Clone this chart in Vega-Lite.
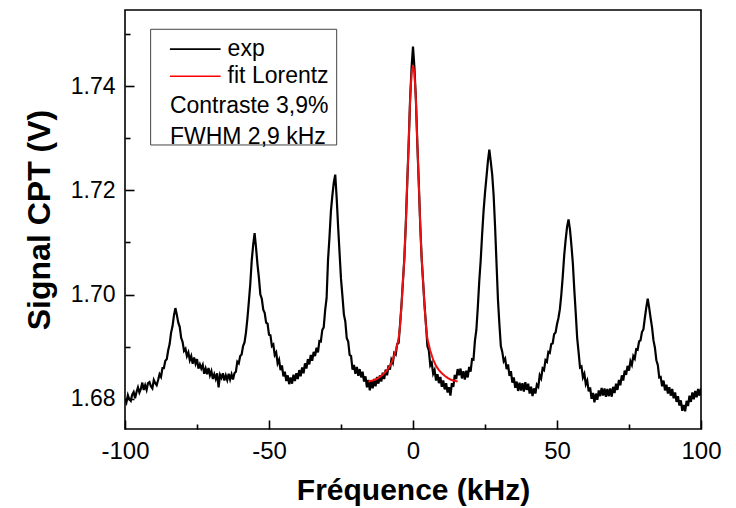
{
  "$schema": "https://vega.github.io/schema/vega-lite/v6.json",
  "width": 576,
  "height": 419,
  "autosize": {"type": "none"},
  "padding": {"left": 125, "top": 10, "right": 35, "bottom": 79},
  "background": "white",
  "config": {
    "font": "Liberation Sans",
    "view": {"stroke": "black", "strokeWidth": 1.6},
    "axis": {"grid": false, "ticks": true, "tickOpacity": 1, "zindex": 1}
  },
  "datasets": {
    "exp": [
      {"f":-100,"v":1.6800},{"f":-99.5,"v":1.6793},{"f":-99,"v":1.6807},{"f":-98.5,"v":1.6799},{"f":-98,"v":1.6796},{"f":-97.5,"v":1.6808},{"f":-97,"v":1.6813},{"f":-96.5,"v":1.6801},{"f":-96,"v":1.6813},{"f":-95.5,"v":1.6822},{"f":-95,"v":1.6812},{"f":-94.5,"v":1.6819},{"f":-94,"v":1.6831},{"f":-93.5,"v":1.6817},{"f":-93,"v":1.6826},{"f":-92.5,"v":1.6817},{"f":-92,"v":1.6830},{"f":-91.5,"v":1.6832},{"f":-91,"v":1.6824},{"f":-90.5,"v":1.6820},{"f":-90,"v":1.6836},{"f":-89.5,"v":1.6830},{"f":-89,"v":1.6826},{"f":-88.5,"v":1.6836},{"f":-88,"v":1.6847},{"f":-87.5,"v":1.6842},{"f":-87,"v":1.6859},{"f":-86.5,"v":1.6859},{"f":-86,"v":1.6873},{"f":-85.5,"v":1.6876},{"f":-85,"v":1.6893},{"f":-84.5,"v":1.6905},{"f":-84,"v":1.6927},{"f":-83.5,"v":1.6939},{"f":-83,"v":1.6960},{"f":-82.5,"v":1.6974},{"f":-82,"v":1.6961},{"f":-81.5,"v":1.6946},{"f":-81,"v":1.6938},{"f":-80.5,"v":1.6917},{"f":-80,"v":1.6909},{"f":-79.5,"v":1.6892},{"f":-79,"v":1.6896},{"f":-78.5,"v":1.6882},{"f":-78,"v":1.6889},{"f":-77.5,"v":1.6874},{"f":-77,"v":1.6882},{"f":-76.5,"v":1.6867},{"f":-76,"v":1.6879},{"f":-75.5,"v":1.6867},{"f":-75,"v":1.6876},{"f":-74.5,"v":1.6858},{"f":-74,"v":1.6866},{"f":-73.5,"v":1.6858},{"f":-73,"v":1.6865},{"f":-72.5,"v":1.6848},{"f":-72,"v":1.6858},{"f":-71.5,"v":1.6847},{"f":-71,"v":1.6859},{"f":-70.5,"v":1.6845},{"f":-70,"v":1.6853},{"f":-69.5,"v":1.6838},{"f":-69,"v":1.6847},{"f":-68.5,"v":1.6838},{"f":-68,"v":1.6849},{"f":-67.5,"v":1.6822},{"f":-67,"v":1.6846},{"f":-66.5,"v":1.6840},{"f":-66,"v":1.6849},{"f":-65.5,"v":1.6835},{"f":-65,"v":1.6845},{"f":-64.5,"v":1.6836},{"f":-64,"v":1.6848},{"f":-63.5,"v":1.6837},{"f":-63,"v":1.6847},{"f":-62.5,"v":1.6837},{"f":-62,"v":1.6849},{"f":-61.5,"v":1.6852},{"f":-61,"v":1.6871},{"f":-60.5,"v":1.6868},{"f":-60,"v":1.6882},{"f":-59.5,"v":1.6885},{"f":-59,"v":1.6901},{"f":-58.5,"v":1.6908},{"f":-58,"v":1.6927},{"f":-57.5,"v":1.6954},{"f":-57,"v":1.6986},{"f":-56.5,"v":1.7020},{"f":-56,"v":1.7065},{"f":-55.5,"v":1.7095},{"f":-55,"v":1.7118},{"f":-54.5,"v":1.7090},{"f":-54,"v":1.7058},{"f":-53.5,"v":1.7032},{"f":-53,"v":1.7000},{"f":-52.5,"v":1.6992},{"f":-52,"v":1.6971},{"f":-51.5,"v":1.6965},{"f":-51,"v":1.6946},{"f":-50.5,"v":1.6944},{"f":-50,"v":1.6923},{"f":-49.5,"v":1.6922},{"f":-49,"v":1.6901},{"f":-48.5,"v":1.6904},{"f":-48,"v":1.6884},{"f":-47.5,"v":1.6889},{"f":-47,"v":1.6868},{"f":-46.5,"v":1.6875},{"f":-46,"v":1.6855},{"f":-45.5,"v":1.6864},{"f":-45,"v":1.6843},{"f":-44.5,"v":1.6852},{"f":-44,"v":1.6834},{"f":-43.5,"v":1.6845},{"f":-43,"v":1.6828},{"f":-42.5,"v":1.6841},{"f":-42,"v":1.6829},{"f":-41.5,"v":1.6846},{"f":-41,"v":1.6834},{"f":-40.5,"v":1.6849},{"f":-40,"v":1.6838},{"f":-39.5,"v":1.6855},{"f":-39,"v":1.6843},{"f":-38.5,"v":1.6860},{"f":-38,"v":1.6849},{"f":-37.5,"v":1.6868},{"f":-37,"v":1.6858},{"f":-36.5,"v":1.6876},{"f":-36,"v":1.6866},{"f":-35.5,"v":1.6884},{"f":-35,"v":1.6873},{"f":-34.5,"v":1.6890},{"f":-34,"v":1.6882},{"f":-33.5,"v":1.6898},{"f":-33,"v":1.6889},{"f":-32.5,"v":1.6911},{"f":-32,"v":1.6910},{"f":-31.5,"v":1.6932},{"f":-31,"v":1.6937},{"f":-30.5,"v":1.6970},{"f":-30,"v":1.6993},{"f":-29.5,"v":1.7067},{"f":-29,"v":1.7110},{"f":-28.5,"v":1.7160},{"f":-28,"v":1.7190},{"f":-27.5,"v":1.7215},{"f":-27,"v":1.7230},{"f":-26.5,"v":1.7185},{"f":-26,"v":1.7130},{"f":-25.5,"v":1.7080},{"f":-25,"v":1.7030},{"f":-24.5,"v":1.6997},{"f":-24,"v":1.6962},{"f":-23.5,"v":1.6948},{"f":-23,"v":1.6916},{"f":-22.5,"v":1.6910},{"f":-22,"v":1.6884},{"f":-21.5,"v":1.6882},{"f":-21,"v":1.6856},{"f":-20.5,"v":1.6865},{"f":-20,"v":1.6848},{"f":-19.5,"v":1.6861},{"f":-19,"v":1.6844},{"f":-18.5,"v":1.6857},{"f":-18,"v":1.6841},{"f":-17.5,"v":1.6852},{"f":-17,"v":1.6833},{"f":-16.5,"v":1.6843},{"f":-16,"v":1.6822},{"f":-15.5,"v":1.6836},{"f":-15,"v":1.6816},{"f":-14.5,"v":1.6834},{"f":-14,"v":1.6820},{"f":-13.5,"v":1.6838},{"f":-13,"v":1.6824},{"f":-12.5,"v":1.6842},{"f":-12,"v":1.6829},{"f":-11.5,"v":1.6845},{"f":-11,"v":1.6833},{"f":-10.5,"v":1.6850},{"f":-10,"v":1.6838},{"f":-9.5,"v":1.6856},{"f":-9,"v":1.6845},{"f":-8.5,"v":1.6864},{"f":-8,"v":1.6856},{"f":-7.5,"v":1.6875},{"f":-7,"v":1.6869},{"f":-6.5,"v":1.6888},{"f":-6,"v":1.6885},{"f":-5.5,"v":1.6905},{"f":-5,"v":1.6907},{"f":-4.5,"v":1.6942},{"f":-4,"v":1.6980},{"f":-3.5,"v":1.7025},{"f":-3,"v":1.7070},{"f":-2.5,"v":1.7135},{"f":-2,"v":1.7215},{"f":-1.5,"v":1.7290},{"f":-1,"v":1.7375},{"f":-0.5,"v":1.7435},{"f":0,"v":1.7476},{"f":0.5,"v":1.7435},{"f":1,"v":1.7375},{"f":1.5,"v":1.7290},{"f":2,"v":1.7215},{"f":2.5,"v":1.7135},{"f":3,"v":1.7070},{"f":3.5,"v":1.7025},{"f":4,"v":1.6980},{"f":4.5,"v":1.6943},{"f":5,"v":1.6901},{"f":5.5,"v":1.6893},{"f":6,"v":1.6864},{"f":6.5,"v":1.6869},{"f":7,"v":1.6848},{"f":7.5,"v":1.6855},{"f":8,"v":1.6835},{"f":8.5,"v":1.6847},{"f":9,"v":1.6830},{"f":9.5,"v":1.6842},{"f":10,"v":1.6823},{"f":10.5,"v":1.6835},{"f":11,"v":1.6818},{"f":11.5,"v":1.6830},{"f":12,"v":1.6812},{"f":12.5,"v":1.6822},{"f":13,"v":1.6806},{"f":13.5,"v":1.6830},{"f":14,"v":1.6823},{"f":14.5,"v":1.6846},{"f":15,"v":1.6838},{"f":15.5,"v":1.6857},{"f":16,"v":1.6845},{"f":16.5,"v":1.6858},{"f":17,"v":1.6839},{"f":17.5,"v":1.6853},{"f":18,"v":1.6837},{"f":18.5,"v":1.6854},{"f":19,"v":1.6841},{"f":19.5,"v":1.6861},{"f":20,"v":1.6852},{"f":20.5,"v":1.6876},{"f":21,"v":1.6875},{"f":21.5,"v":1.6911},{"f":22,"v":1.6932},{"f":22.5,"v":1.6975},{"f":23,"v":1.7025},{"f":23.5,"v":1.7065},{"f":24,"v":1.7115},{"f":24.5,"v":1.7160},{"f":25,"v":1.7195},{"f":25.5,"v":1.7225},{"f":26,"v":1.7255},{"f":26.5,"v":1.7278},{"f":27,"v":1.7255},{"f":27.5,"v":1.7230},{"f":28,"v":1.7190},{"f":28.5,"v":1.7130},{"f":29,"v":1.7060},{"f":29.5,"v":1.6990},{"f":30,"v":1.6943},{"f":30.5,"v":1.6901},{"f":31,"v":1.6890},{"f":31.5,"v":1.6872},{"f":32,"v":1.6877},{"f":32.5,"v":1.6857},{"f":33,"v":1.6866},{"f":33.5,"v":1.6844},{"f":34,"v":1.6853},{"f":34.5,"v":1.6831},{"f":35,"v":1.6841},{"f":35.5,"v":1.6821},{"f":36,"v":1.6833},{"f":36.5,"v":1.6815},{"f":37,"v":1.6831},{"f":37.5,"v":1.6816},{"f":38,"v":1.6830},{"f":38.5,"v":1.6814},{"f":39,"v":1.6832},{"f":39.5,"v":1.6817},{"f":40,"v":1.6829},{"f":40.5,"v":1.6810},{"f":41,"v":1.6823},{"f":41.5,"v":1.6805},{"f":42,"v":1.6820},{"f":42.5,"v":1.6810},{"f":43,"v":1.6827},{"f":43.5,"v":1.6823},{"f":44,"v":1.6845},{"f":44.5,"v":1.6839},{"f":45,"v":1.6858},{"f":45.5,"v":1.6855},{"f":46,"v":1.6874},{"f":46.5,"v":1.6871},{"f":47,"v":1.6890},{"f":47.5,"v":1.6888},{"f":48,"v":1.6905},{"f":48.5,"v":1.6906},{"f":49,"v":1.6924},{"f":49.5,"v":1.6927},{"f":50,"v":1.6943},{"f":50.5,"v":1.6955},{"f":51,"v":1.6972},{"f":51.5,"v":1.7000},{"f":52,"v":1.7035},{"f":52.5,"v":1.7075},{"f":53,"v":1.7105},{"f":53.5,"v":1.7130},{"f":54,"v":1.7144},{"f":54.5,"v":1.7125},{"f":55,"v":1.7095},{"f":55.5,"v":1.7060},{"f":56,"v":1.7010},{"f":56.5,"v":1.6965},{"f":57,"v":1.6917},{"f":57.5,"v":1.6889},{"f":58,"v":1.6860},{"f":58.5,"v":1.6862},{"f":59,"v":1.6841},{"f":59.5,"v":1.6848},{"f":60,"v":1.6828},{"f":60.5,"v":1.6835},{"f":61,"v":1.6814},{"f":61.5,"v":1.6822},{"f":62,"v":1.6800},{"f":62.5,"v":1.6811},{"f":63,"v":1.6793},{"f":63.5,"v":1.6810},{"f":64,"v":1.6798},{"f":64.5,"v":1.6816},{"f":65,"v":1.6805},{"f":65.5,"v":1.6821},{"f":66,"v":1.6806},{"f":66.5,"v":1.6820},{"f":67,"v":1.6804},{"f":67.5,"v":1.6819},{"f":68,"v":1.6805},{"f":68.5,"v":1.6820},{"f":69,"v":1.6804},{"f":69.5,"v":1.6823},{"f":70,"v":1.6811},{"f":70.5,"v":1.6829},{"f":71,"v":1.6817},{"f":71.5,"v":1.6836},{"f":72,"v":1.6826},{"f":72.5,"v":1.6845},{"f":73,"v":1.6835},{"f":73.5,"v":1.6854},{"f":74,"v":1.6846},{"f":74.5,"v":1.6863},{"f":75,"v":1.6854},{"f":75.5,"v":1.6872},{"f":76,"v":1.6865},{"f":76.5,"v":1.6882},{"f":77,"v":1.6877},{"f":77.5,"v":1.6895},{"f":78,"v":1.6894},{"f":78.5,"v":1.6910},{"f":79,"v":1.6912},{"f":79.5,"v":1.6928},{"f":80,"v":1.6933},{"f":80.5,"v":1.6955},{"f":81,"v":1.6975},{"f":81.5,"v":1.6992},{"f":82,"v":1.6975},{"f":82.5,"v":1.6955},{"f":83,"v":1.6937},{"f":83.5,"v":1.6912},{"f":84,"v":1.6898},{"f":84.5,"v":1.6874},{"f":85,"v":1.6865},{"f":85.5,"v":1.6841},{"f":86,"v":1.6842},{"f":86.5,"v":1.6824},{"f":87,"v":1.6835},{"f":87.5,"v":1.6816},{"f":88,"v":1.6827},{"f":88.5,"v":1.6810},{"f":89,"v":1.6822},{"f":89.5,"v":1.6806},{"f":90,"v":1.6819},{"f":90.5,"v":1.6801},{"f":91,"v":1.6812},{"f":91.5,"v":1.6794},{"f":92,"v":1.6805},{"f":92.5,"v":1.6787},{"f":93,"v":1.6797},{"f":93.5,"v":1.6777},{"f":94,"v":1.6788},{"f":94.5,"v":1.6776},{"f":95,"v":1.6796},{"f":95.5,"v":1.6786},{"f":96,"v":1.6806},{"f":96.5,"v":1.6794},{"f":97,"v":1.6812},{"f":97.5,"v":1.6799},{"f":98,"v":1.6815},{"f":98.5,"v":1.6803},{"f":99,"v":1.6819},{"f":99.5,"v":1.6806},{"f":100,"v":1.6820}
    ],
    "fit": [
      {"f":-15.5,"v":1.6833},{"f":-14,"v":1.6835},{"f":-13,"v":1.6837},{"f":-12,"v":1.6840},{"f":-11,"v":1.6844},{"f":-10,"v":1.6849},{"f":-9,"v":1.6855},{"f":-8,"v":1.6863},{"f":-7,"v":1.6875},{"f":-6,"v":1.6892},{"f":-5,"v":1.6915},{"f":-4.5,"v":1.6940},{"f":-4,"v":1.6978},{"f":-3.5,"v":1.7025},{"f":-3,"v":1.7070},{"f":-2.5,"v":1.7135},{"f":-2,"v":1.7215},{"f":-1.5,"v":1.7290},{"f":-1,"v":1.7375},{"f":-0.5,"v":1.7425},{"f":0,"v":1.7440},{"f":0.5,"v":1.7425},{"f":1,"v":1.7375},{"f":1.5,"v":1.7290},{"f":2,"v":1.7215},{"f":2.5,"v":1.7135},{"f":3,"v":1.7070},{"f":3.5,"v":1.7025},{"f":4,"v":1.6978},{"f":4.5,"v":1.6940},{"f":5,"v":1.6915},{"f":6,"v":1.6892},{"f":7,"v":1.6875},{"f":8,"v":1.6863},{"f":9,"v":1.6855},{"f":10,"v":1.6849},{"f":11,"v":1.6844},{"f":12,"v":1.6840},{"f":13,"v":1.6837},{"f":14,"v":1.6835},{"f":15.5,"v":1.6833}
    ],
    "box": [{"x1": -91.1, "x2": -26.5, "y1": 1.7287, "y2": 1.7509}],
    "keys": [
      {"x1": -84.4, "x2": -66.8, "y": 1.7471, "label": "exp", "c": "black"},
      {"x1": -84.4, "x2": -66.8, "y": 1.7419, "label": "fit Lorentz", "c": "red"}
    ],
    "notes": [
      {"x": -84.4, "y": 1.7361, "label": "Contraste 3,9%"},
      {"x": -84.4, "y": 1.7303, "label": "FWHM 2,9 kHz"}
    ]
  },
  "layer": [
    {
      "data": {"name": "box"},
      "mark": {"type": "rect", "fill": "white", "stroke": "#444444", "strokeWidth": 1},
      "encoding": {
        "x": {"field": "x1", "type": "quantitative", "scale": {"domain": [-100, 100], "nice": false},
          "axis": {"orient": "bottom", "offset": -5, "values": [-75, -25, 25, 75], "labels": false, "domain": false, "ticks": true, "tickSize": 5, "tickWidth": 1.6, "tickColor": "#000000", "title": null}},
        "x2": {"field": "x2"},
        "y": {"field": "y1", "type": "quantitative", "scale": {"domain": [1.6742, 1.7546], "nice": false, "zero": false},
          "axis": {"orient": "left", "offset": -5, "values": [1.69, 1.71, 1.73, 1.75], "labels": false, "domain": false, "ticks": true, "tickSize": 5, "tickWidth": 1.6, "tickColor": "#000000", "title": null}},
        "y2": {"field": "y2"}
      }
    },
    {
      "data": {"name": "exp"},
      "mark": {"type": "line", "color": "black", "strokeWidth": 2.2, "clip": true},
      "encoding": {
        "x": {"field": "f", "type": "quantitative", "scale": {"domain": [-100, 100], "nice": false},
          "axis": {"orient": "bottom", "offset": -9, "values": [-100, -50, 0, 50, 100], "labelExpr": "datum.value + ''", "ticks": true, "tickSize": 9, "tickWidth": 1.6, "tickColor": "#000000", "domain": false, "labelPadding": 10, "labelFontSize": 24, "labelColor": "black", "labelFlush": false, "labelOverlap": false, "title": "Fréquence (kHz)", "titleFontSize": 30, "titleFontWeight": "bold", "titleColor": "black", "titlePadding": 12}},
        "y": {"field": "v", "type": "quantitative", "scale": {"domain": [1.6742, 1.7546], "nice": false, "zero": false},
          "axis": {"orient": "left", "offset": -9, "values": [1.68, 1.70, 1.72, 1.74], "format": ".2f", "ticks": true, "tickSize": 9, "tickWidth": 1.6, "tickColor": "#000000", "domain": false, "labelPadding": 10, "labelFontSize": 23, "labelColor": "black", "labelFlush": false, "labelOverlap": false, "title": "Signal CPT (V)", "titleFontSize": 32, "titleFontWeight": "bold", "titleColor": "black", "titlePadding": 14}}
      }
    },
    {
      "data": {"name": "fit"},
      "mark": {"type": "line", "color": "#ee1111", "strokeWidth": 2, "clip": true},
      "encoding": {
        "x": {"field": "f", "type": "quantitative", "scale": {"domain": [-100, 100], "nice": false}, "axis": null},
        "y": {"field": "v", "type": "quantitative", "scale": {"domain": [1.6742, 1.7546], "nice": false, "zero": false}, "axis": null}
      }
    },
    {
      "data": {"name": "keys"},
      "mark": {"type": "rule", "strokeWidth": 1.6},
      "encoding": {
        "x": {"field": "x1", "type": "quantitative", "scale": {"domain": [-100, 100], "nice": false}, "axis": null},
        "x2": {"field": "x2"},
        "y": {"field": "y", "type": "quantitative", "scale": {"domain": [1.6742, 1.7546], "nice": false, "zero": false}, "axis": null},
        "color": {"field": "c", "type": "nominal", "scale": null, "legend": null}
      }
    },
    {
      "data": {"name": "keys"},
      "mark": {"type": "text", "align": "left", "baseline": "middle", "fontSize": 23, "color": "black", "dx": 7},
      "encoding": {
        "x": {"field": "x2", "type": "quantitative", "scale": {"domain": [-100, 100], "nice": false}, "axis": null},
        "y": {"field": "y", "type": "quantitative", "scale": {"domain": [1.6742, 1.7546], "nice": false, "zero": false}, "axis": null},
        "text": {"field": "label"}
      }
    },
    {
      "data": {"name": "notes"},
      "mark": {"type": "text", "align": "left", "baseline": "middle", "fontSize": 23, "color": "black"},
      "encoding": {
        "x": {"field": "x", "type": "quantitative", "scale": {"domain": [-100, 100], "nice": false}, "axis": null},
        "y": {"field": "y", "type": "quantitative", "scale": {"domain": [1.6742, 1.7546], "nice": false, "zero": false}, "axis": null},
        "text": {"field": "label"}
      }
    }
  ],
  "resolve": {"axis": {"x": "independent", "y": "independent"}}
}
